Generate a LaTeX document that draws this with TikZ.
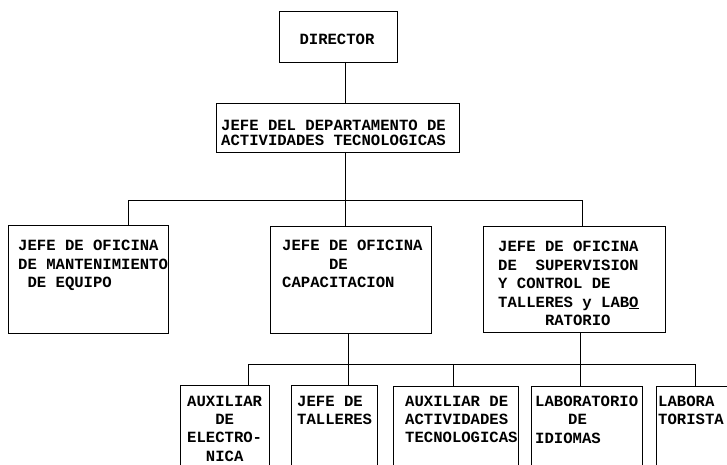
\documentclass[tikz,border=0pt]{standalone}
\usepackage{fontspec}
\setmonofont{Liberation Mono}
\begin{document}
\begin{tikzpicture}[x=1pt,y=-1pt,
  box/.style={draw,line width=0.9pt,inner sep=0pt,outer sep=0pt,rectangle},
  txt/.style={font=\ttfamily\bfseries\fontsize{15.6}{18.5}\selectfont,align=left,inner sep=0pt,anchor=north west},
  conn/.style={line width=0.9pt}]
\useasboundingbox (0,0) rectangle (727,465);
\clip (0,0) rectangle (727,465);
% boxes
\node[box,minimum width=118pt,minimum height=51pt] (dir) at (338,36.5) {};
\node[box,minimum width=243pt,minimum height=49pt] (dept) at (337.5,127.5) {};
\node[box,minimum width=160pt,minimum height=108pt] (L) at (88,279) {};
\node[box,minimum width=161pt,minimum height=107pt] (M) at (350.5,279.5) {};
\node[box,minimum width=182pt,minimum height=106pt] (R) at (574,279) {};
\node[box,minimum width=89pt,minimum height=95pt] (B1) at (224.5,432.5) {};
\node[box,minimum width=86pt,minimum height=95pt] (B2) at (334,432.5) {};
\node[box,minimum width=125pt,minimum height=95pt] (B3) at (455.5,433.5) {};
\node[box,minimum width=111pt,minimum height=95pt] (B4) at (586.5,433.5) {};
\node[box,minimum width=104pt,minimum height=95pt] (B5) at (708,433.5) {};
% texts
\node[txt,anchor=center] (tdir) at (337,39) {DIRECTOR};
\node[txt,font=\ttfamily\bfseries\fontsize{15.6}{15}\selectfont] (tdept) at (221,120) {JEFE DEL DEPARTAMENTO DE\\ACTIVIDADES TECNOLOGICAS};
\node[txt] (tL) at (18,240) {JEFE DE OFICINA\\DE MANTENIMIENTO\\~DE EQUIPO};
\node[txt] (tM) at (282,240) {JEFE DE OFICINA\\~~~~~DE\\CAPACITACION};
\node[txt] (tR) at (498,241) {JEFE DE OFICINA\\DE~~SUPERVISION\\Y CONTROL DE\\TALLERES y LAB\underline{O}\\~~~~~RATORIO};
\node[txt,font=\ttfamily\bfseries\fontsize{15.6}{18.2}\selectfont] (tB1) at (187,396) {AUXILIAR\\~~~DE\\ELECTRO-\\~~NICA};
\node[txt,font=\ttfamily\bfseries\fontsize{15.6}{18.2}\selectfont] (tB2) at (297,396) {JEFE DE\\TALLERES};
\node[txt,font=\ttfamily\bfseries\fontsize{15.6}{18.2}\selectfont] (tB3) at (405,396) {AUXILIAR DE\\ACTIVIDADES\\TECNOLOGICAS};
\node[txt,font=\ttfamily\bfseries\fontsize{15.6}{18.2}\selectfont] (tB4) at (535,396) {LABORATORIO\\\hspace*{33pt}DE\\IDIOMAS};
\node[txt,font=\ttfamily\bfseries\fontsize{15.6}{18.2}\selectfont] (tB5) at (658,396) {LABORA\\TORISTA};
% junctions
\coordinate (jA) at (128,200);
\coordinate (jB) at (345,200);
\coordinate (jC) at (582,200);
\coordinate (k1) at (248,364);
\coordinate (k2) at (348,364);
\coordinate (k3) at (453,364);
\coordinate (k4) at (580,364);
\coordinate (k5) at (695,364);
% connectors
\draw[conn] (dir.south -| jB) -- (dept.north -| jB);
\draw[conn] (dept.south -| jB) -- (M.north -| jB);
\draw[conn] (L.north -| jA) |- (jC) -- (R.north -| jC);
\draw[conn] (B1.north -| k1) |- (k5) -- (B5.north -| k5);
\draw[conn] (M.south -| k2) -- (B2.north -| k2);
\draw[conn] (k3) -- (B3.north -| k3);
\draw[conn] (R.south -| k4) -- (B4.north -| k4);
\end{tikzpicture}
\end{document}
